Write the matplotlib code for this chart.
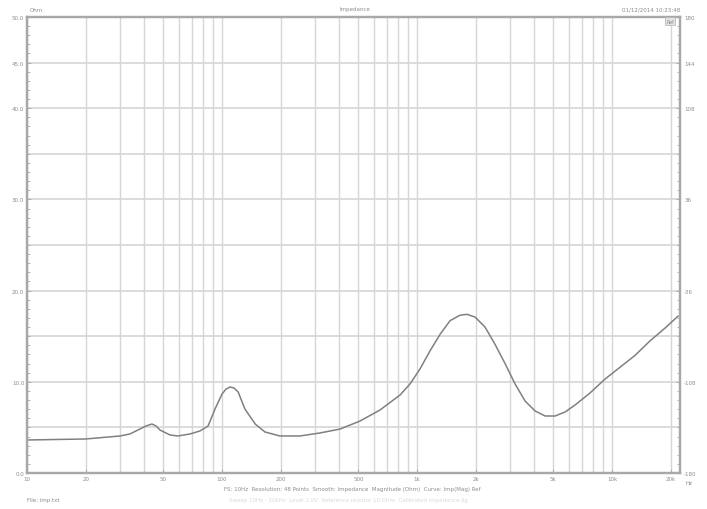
import matplotlib.pyplot as plt
from matplotlib.ticker import FixedLocator, MultipleLocator, NullFormatter

# impedance magnitude
freq_hz = [10, 20, 30, 33.7, 37.9, 40.7, 43.7, 45.9, 48.1, 54.1, 59.4, 68.5, 77.1, 84.8, 92.1,
           100, 104.8, 110, 115.2, 121, 131, 148, 166, 198, 251, 318, 403, 510, 646, 818, 920,
           1035, 1166, 1312, 1476, 1662, 1804, 1983, 2232, 2512, 2827, 3182, 3581,
           4030, 4535, 5103, 5743, 6463, 7706, 9203, 10990, 13120, 15670, 18710, 21790]
impedance_ohm = [3.62, 3.73, 4.06, 4.28, 4.82, 5.15, 5.37, 5.15, 4.71, 4.17, 4.06, 4.28, 4.61, 5.15, 7.02,
                 8.66, 9.2, 9.43, 9.32, 8.88, 7.02, 5.37, 4.50, 4.06, 4.06, 4.39, 4.82, 5.70, 6.91, 8.55, 9.76,
                 11.4, 13.4, 15.2, 16.7, 17.3, 17.4, 17.1, 16.0, 14.1, 12.0, 9.76, 7.89,
                 6.80, 6.25, 6.25, 6.69, 7.46, 8.77, 10.3, 11.6, 12.9, 14.5, 15.9, 17.2]

x_ticks = [10, 20, 50, 100, 200, 500, 1000, 2000, 5000, 10000, 20000]
x_labels = ['10', '20', '50', '100', '200', '500', '1k', '2k', '5k', '10k', '20k']
y_ticks = [0, 10, 20, 30, 40, 45, 50]
y_labels = ['0.0', '10.0', '20.0', '30.0', '40.0', '45.0', '50.0']
deg_labels = ['-180', '-108', '-36', '36', '108', '144', '180']

grid_c = '#d6d6d6'
frame_c = '#a8a8a8'
text_c = '#8c8c8c'

fig = plt.figure(figsize=(7.07, 5.10), dpi=100)
ax = fig.add_axes([27 / 707, 1 - 474 / 510, 653 / 707, 456 / 510])

ax.plot(freq_hz, impedance_ohm, color='#808080', lw=1.1)

ax.set_xscale('log')
ax.set_xlim(10, 22300)
ax.set_ylim(0, 50)

# grid at every 1..9 x 10^n
vgrid = [k * 10 ** n for n in range(1, 5) for k in range(1, 10) if k * 10 ** n <= 20000]
for v in vgrid:
    ax.axvline(v, color=grid_c, lw=1.0, zorder=0)
for h in range(5, 50, 5):
    ax.axhline(h, color=grid_c, lw=1.2, zorder=0)

ax.xaxis.set_major_locator(FixedLocator(x_ticks))
ax.set_xticklabels(x_labels)
ax.xaxis.set_minor_formatter(NullFormatter())
ax.xaxis.set_minor_locator(FixedLocator([]))
ax.yaxis.set_major_locator(FixedLocator(y_ticks))
ax.set_yticklabels(y_labels)
ax.yaxis.set_minor_locator(MultipleLocator(1))
ax.tick_params(axis='both', which='both', direction='in', colors=frame_c,
               labelcolor=text_c, labelsize=4, length=3, width=0.6, pad=2)
ax.tick_params(axis='y', which='minor', length=2)
ax.tick_params(axis='y', right=True, which='both')

ax2 = ax.twinx()
ax2.set_ylim(0, 50)
ax2.yaxis.set_major_locator(FixedLocator(y_ticks))
ax2.set_yticklabels(deg_labels)
ax2.yaxis.set_minor_locator(MultipleLocator(1))
ax2.tick_params(axis='y', which='both', direction='in', colors=frame_c,
                labelcolor=text_c, labelsize=4, length=3, width=0.6, pad=3)
ax2.tick_params(axis='y', which='minor', length=2)

for a in (ax, ax2):
    for s in a.spines.values():
        s.set_color(frame_c)
        s.set_linewidth(1.6)

fig.text(30 / 707, 1 - 10 / 510, 'Ohm', fontsize=4, color=text_c, va='center')
fig.text(355 / 707, 1 - 10 / 510, 'Impedance', fontsize=4, color=text_c, ha='center', va='center')
fig.text(680 / 707, 1 - 10 / 510, '01/12/2014 10:23:48', fontsize=4, color=text_c,
         ha='right', va='center')
fig.text(686 / 707, 1 - 484 / 510, 'Hz', fontsize=4, color=text_c, va='center')
fig.text(670 / 707, 1 - 22 / 510, 'Ref', fontsize=3.5, color=text_c, ha='center', va='center',
         bbox=dict(boxstyle='square,pad=0.25', fc='#e4e4e4', ec='#b0b0b0', lw=0.5))
fig.text(352 / 707, 1 - 490 / 510,
         'FS: 10Hz  Resolution: 48 Points  Smooth: Impedance  Magnitude (Ohm)  Curve: Imp(Mag) Ref',
         fontsize=4, color=text_c, ha='center', va='center')
fig.text(348 / 707, 1 - 501 / 510,
         'Sweep 10Hz - 20kHz  Level 1.0V  Reference resistor 10 Ohm  Calibrated impedance jig',
         fontsize=4, color='#dadada', ha='center', va='center')
fig.text(27 / 707, 1 - 501 / 510, 'File: imp.txt', fontsize=4, color=text_c, va='center')

fig.savefig('out.png', dpi=100)
